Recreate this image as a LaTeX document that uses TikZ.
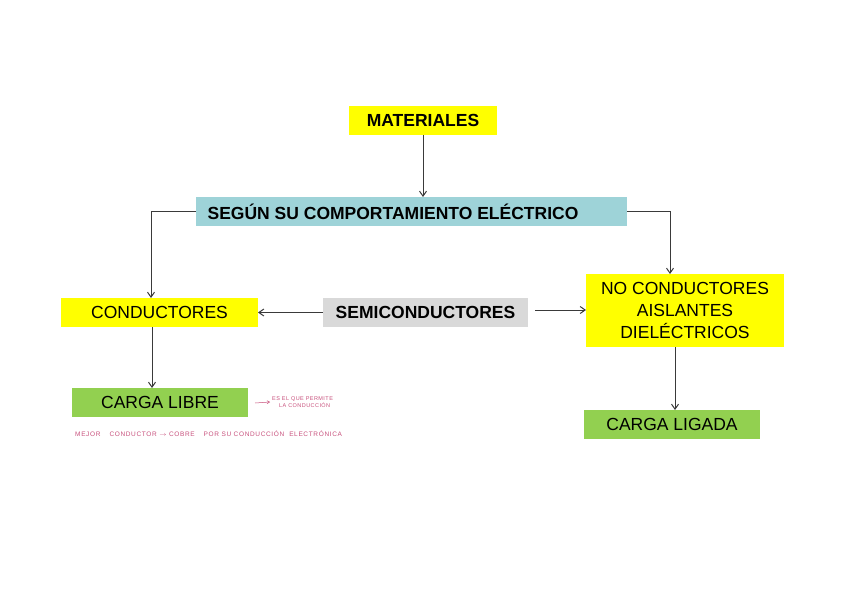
\documentclass[tikz,border=0pt]{standalone}
\usepackage{fontspec}
\setmainfont{Liberation Sans}
\usetikzlibrary{arrows.meta}
\definecolor{ybox}{HTML}{FFFF00}
\definecolor{tbox}{HTML}{9ED3D8}
\definecolor{gbox}{HTML}{D9D9D9}
\definecolor{grbox}{HTML}{92D050}
\definecolor{hand}{HTML}{C8507C}
\definecolor{lin}{HTML}{3A3A3A}
\tikzset{
  box/.style={inner sep=0pt, outer sep=0pt, align=center, text=black,
    font=\fontsize{17.5}{22}\selectfont},
  bbox/.style={box, font=\fontsize{17.5}{22}\selectfont\bfseries},
  arr/.style={draw=lin, line width=1pt, -{Straight Barb[length=5pt,width=7pt]}},
  note/.style={inner sep=0pt, text=hand, align=left, font=\fontsize{5.5}{7}\selectfont\addfontfeature{LetterSpace=8}},
  harr/.style={draw=hand, line width=0.5pt, -{Straight Barb[length=2.5pt,width=3pt]}}
}
\begin{document}
\begin{tikzpicture}[x=1pt,y=-1pt]
\path[use as bounding box, fill=white] (0,0) rectangle (848,600);
\node[bbox, fill=ybox, minimum width=148pt, minimum height=29pt] (mat) at (423,120.5) {MATERIALES};
\node[bbox, fill=tbox, minimum width=431pt, minimum height=29pt] (seg) at (411.5,211.5) {\hspace*{-37pt}SEGÚN SU COMPORTAMIENTO ELÉCTRICO};
\node[box, fill=ybox, minimum width=197pt, minimum height=29pt] (con) at (159.5,312.5) {CONDUCTORES};
\node[bbox, fill=gbox, minimum width=205pt, minimum height=29pt] (semi) at (425.5,312.5) {SEMICONDUCTORES};
\node[box, fill=ybox, minimum width=198pt, minimum height=73pt] (noc) at (685,310.5) {NO CONDUCTORES\\AISLANTES\\DIELÉCTRICOS};
\node[box, fill=grbox, minimum width=176pt, minimum height=29pt] (libre) at (160,402.5) {CARGA LIBRE};
\node[box, fill=grbox, minimum width=176pt, minimum height=29pt] (ligada) at (672,424.5) {CARGA LIGADA};
\node[note, anchor=west] (n1) at (272,402) {ES EL QUE PERMITE\\\hspace*{7pt}LA CONDUCCIÓN};
\node[note, anchor=west, font=\fontsize{6.5}{8}\selectfont\addfontfeature{LetterSpace=10}] (n2) at (75,434) {MEJOR\quad\ CONDUCTOR $\rightarrow$ COBRE\quad\ POR SU CONDUCCIÓN\ \ ELECTRÓNICA};
\draw[arr] (mat.south) -- (mat.south |- seg.north);
\draw[arr] (seg.west) -| ([xshift=-8.5pt]con.north);
\draw[arr] (seg.east) -| ([xshift=-15pt]noc.north);
\draw[arr] (semi.west) -- (con.east);
\coordinate (s1) at ([xshift=7pt,yshift=2.5pt]semi.east);
\draw[arr] (s1) -- (s1 -| noc.west);
\draw[arr] ([xshift=-7.5pt]con.south) -- ([xshift=-7.5pt]con.south |- libre.north);
\draw[arr] ([xshift=-10pt]noc.south) -- ([xshift=-10pt]noc.south |- ligada.north);
\draw[harr] ([xshift=7pt,yshift=-0.5pt]libre.east) -- ([xshift=-2pt]n1.west);
\end{tikzpicture}
\end{document}
